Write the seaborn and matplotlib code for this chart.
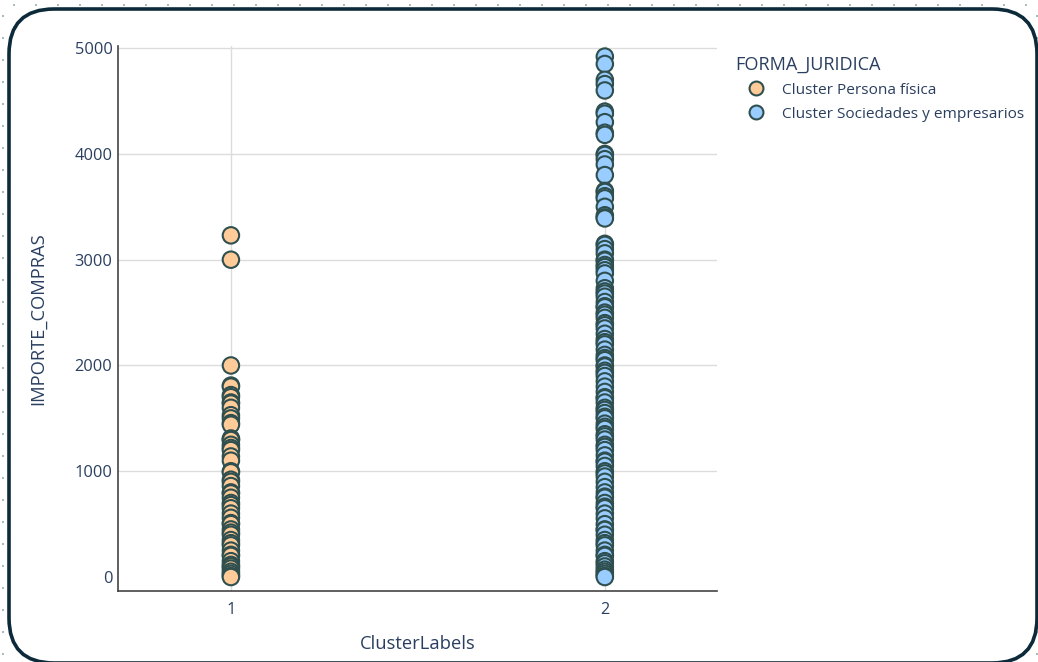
import matplotlib
matplotlib.use("Agg")
import matplotlib.pyplot as plt
import seaborn as sns
import pandas as pd
import numpy as np
from matplotlib.patches import FancyBboxPatch
from matplotlib.lines import Line2D

# ---------------- data ----------------
cluster_labels = [1, 2]
series_names = ["Cluster Persona física", "Cluster Sociedades y empresarios"]
persona_fisica = [3230, 3000, 2000, 1810, 1800, 1720, 1700, 1650, 1640, 1600, 1530, 1500,
                  1455, 1440, 1310, 1300, 1295, 1250, 1220, 1200, 1140, 1100, 1000, 990,
                  920, 900, 860, 800, 790, 750, 700, 680, 650, 600, 560, 510, 500, 450,
                  420, 400, 350, 320, 300, 250, 210, 200, 150, 115, 100, 80, 50, 30, 10, 0]
sociedades = [4920, 4850, 4700, 4660, 4600, 4400, 4380, 4300, 4200, 4180, 4000, 3990,
              3950, 3900, 3800, 3650, 3640, 3600, 3580, 3500, 3420, 3400, 3390, 3150,
              3140, 3100, 3060, 3000, 2990, 2950, 2930, 2900, 2870, 2800, 2730, 2700,
              2680, 2650, 2600, 2560, 2550, 2500, 2480, 2450, 2400, 2380, 2350, 2300,
              2250, 2220, 2200, 2150, 2100, 2070, 2050, 2000, 1990, 1950, 1930, 1900,
              1850, 1800, 1750, 1700, 1690, 1650, 1600, 1580, 1550, 1515, 1500, 1450,
              1420, 1400, 1350, 1330, 1300, 1250, 1230, 1200, 1150, 1100, 1090, 1050,
              1000, 980, 950, 900, 850, 800, 760, 750, 700, 665, 650, 600, 555, 500,
              450, 445, 400, 350, 320, 300, 250, 210, 200, 150, 130, 100, 70, 50, 30, 10, 0]
y_ticks = [0, 1000, 2000, 3000, 4000, 5000]

df = pd.DataFrame({
    "ClusterLabels": [cluster_labels[0]] * len(persona_fisica) + [cluster_labels[1]] * len(sociedades),
    "IMPORTE_COMPRAS": persona_fisica + sociedades,
    "FORMA_JURIDICA": [series_names[0]] * len(persona_fisica) + [series_names[1]] * len(sociedades),
})

colors = {series_names[0]: "#FFCC99", series_names[1]: "#99CCFF"}
edge = "#2F4F4F"
text_color = "#2a3f5f"

sns.set_theme(style="white")
plt.rcParams["font.family"] = ["Open Sans", "DejaVu Sans"]

W, H = 1038, 662
fig = plt.figure(figsize=(W / 100, H / 100), dpi=100)
fig.patch.set_facecolor("white")

# background dot pattern (decorative), two offset lattices
pts_x, pts_y = [], []
for x0, y0 in [(14, 4.7), (3, 15.7)]:
    xs = np.arange(x0, W + 1, 22)
    ys = np.arange(y0, H + 1, 22)
    gx, gy = np.meshgrid(xs, ys)
    pts_x.append(gx.ravel())
    pts_y.append(gy.ravel())
pts_x = np.concatenate(pts_x) / W
pts_y = 1 - np.concatenate(pts_y) / H
dots = Line2D(pts_x, pts_y, transform=fig.transFigure, ls="none", marker="s",
              ms=1.6, color="#a9bdb3", mew=0, zorder=-2)
fig.add_artist(dots)

# rounded frame
frame = FancyBboxPatch((9 / 100, -1 / 100), (1037 - 9) / 100, (663 - 9) / 100,
                       boxstyle="round,pad=0,rounding_size=0.45",
                       transform=fig.dpi_scale_trans, facecolor="white",
                       edgecolor="#0d2a3a", linewidth=2.6, zorder=-1)
fig.add_artist(frame)

ax = fig.add_axes([118 / W, 1 - 591 / H, (717 - 118) / W, (591 - 46) / H])
ax.set_facecolor("none")

sns.scatterplot(data=df, x="ClusterLabels", y="IMPORTE_COMPRAS", hue="FORMA_JURIDICA",
                palette=colors, s=140, edgecolor=edge, linewidth=1.5, alpha=1,
                ax=ax, legend=False, zorder=3)

ax.set_xlim(0.698, 2.30)
ax.set_ylim(-132, 5020)
ax.set_xticks(cluster_labels)
ax.set_yticks(y_ticks)
ax.grid(True, color="#dcdcdc", linewidth=1)
ax.set_axisbelow(True)
ax.yaxis.get_gridlines()[0].set_visible(False)

for s in ["top", "right"]:
    ax.spines[s].set_visible(False)
for s in ["left", "bottom"]:
    ax.spines[s].set_color("#444444")
    ax.spines[s].set_linewidth(1.2)

ax.tick_params(axis="both", length=0, labelsize=11.8, labelcolor=text_color)
ax.tick_params(axis="y", pad=4)
ax.tick_params(axis="x", pad=8)
ax.set_xlabel("ClusterLabels", fontsize=13.2, color=text_color, labelpad=12)
ax.set_ylabel("IMPORTE_COMPRAS", fontsize=13.2, color=text_color, labelpad=20)

handles = [Line2D([], [], ls="none", marker="o", ms=10, markerfacecolor=colors[n],
                  markeredgecolor=edge, markeredgewidth=1.5) for n in series_names]
leg = fig.legend(handles, series_names, title="FORMA_JURIDICA", loc="upper left",
                 bbox_to_anchor=(724 / W, 1 - 45 / H), frameon=False,
                 fontsize=11.1, title_fontsize=13.1, alignment="left",
                 handletextpad=0.3, labelspacing=0.58, borderpad=0.2, handlelength=2.75)
for t in leg.get_texts():
    t.set_color(text_color)
leg.get_title().set_color(text_color)

fig.savefig("out.png", dpi=100)
